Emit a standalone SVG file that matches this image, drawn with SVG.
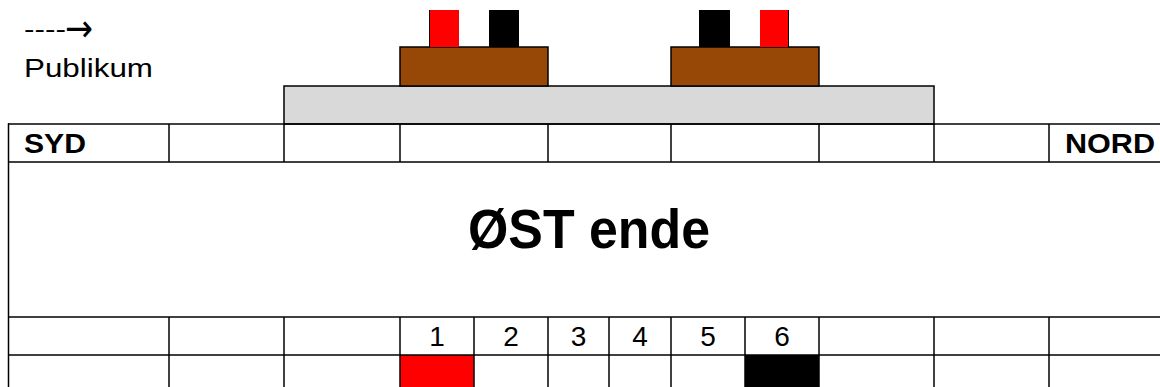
<svg xmlns="http://www.w3.org/2000/svg" width="1160" height="387" viewBox="0 0 1160 387">
  <style>
    .txt { font-family: "Liberation Sans", Arial, sans-serif; fill: #000; }
    .bold { font-weight: bold; }
    .arrow { font-family: "DejaVu Sans", sans-serif; }
    .grid { stroke: #000; stroke-width: 1.5; fill: none; }
    .box { stroke: #000; stroke-width: 1.5; }
    .red { fill: #ff0000; }
    .black { fill: #000; }
    .brown { fill: #974806; }
    .stage { fill: #d9d9d9; }
    .num { font-size: 28px; text-anchor: middle; }
  </style>

  <rect width="1160" height="387" fill="#fff"/>

  <!-- audience direction label -->
  <g id="publikum">
    <text class="txt" x="24" y="37" font-size="24"><tspan textLength="42" lengthAdjust="spacingAndGlyphs">----</tspan><tspan class="arrow" x="65" y="41" font-size="38" textLength="28" lengthAdjust="spacingAndGlyphs">→</tspan></text>
    <text class="txt" x="24" y="77" font-size="26" textLength="129" lengthAdjust="spacingAndGlyphs">Publikum</text>
  </g>

  <!-- stage platform -->
  <g id="stage">
    <rect class="stage box" x="284" y="86" width="650" height="38"/>
  </g>

  <!-- left podium with its two markers -->
  <g id="podium-left">
    <rect class="brown box" x="400" y="47" width="148" height="39"/>
    <rect class="red" x="429" y="10" width="30" height="37"/>
    <line x1="429.5" y1="10" x2="429.5" y2="47" stroke="#000" stroke-width="1"/>
    <rect class="black" x="489" y="10" width="30" height="37"/>
  </g>

  <!-- right podium with its two markers -->
  <g id="podium-right">
    <rect class="brown box" x="671" y="47" width="148" height="39"/>
    <rect class="black" x="699" y="10" width="31" height="37"/>
    <rect class="red" x="760" y="10" width="29" height="37"/>
    <line x1="788.5" y1="10" x2="788.5" y2="47" stroke="#000" stroke-width="1"/>
  </g>

  <!-- floor plan table -->
  <g id="table">
    <!-- filled cells in the bottom row -->
    <rect class="red" x="400" y="355" width="74" height="40"/>
    <rect class="black" x="745" y="355" width="74" height="40"/>

    <!-- horizontal rules -->
    <line class="grid" x1="8" y1="124" x2="1170" y2="124"/>
    <line class="grid" x1="8" y1="162" x2="1170" y2="162"/>
    <line class="grid" x1="8" y1="317" x2="1170" y2="317"/>
    <line class="grid" x1="8" y1="355" x2="1170" y2="355"/>
    <!-- outer left edge -->
    <line class="grid" x1="8.5" y1="123.25" x2="8.5" y2="395"/>

    <!-- header row dividers -->
    <g class="grid">
      <line x1="169" y1="124" x2="169" y2="162"/>
      <line x1="284" y1="124" x2="284" y2="162"/>
      <line x1="400" y1="124" x2="400" y2="162"/>
      <line x1="548" y1="124" x2="548" y2="162"/>
      <line x1="671" y1="124" x2="671" y2="162"/>
      <line x1="819" y1="124" x2="819" y2="162"/>
      <line x1="934" y1="124" x2="934" y2="162"/>
      <line x1="1049" y1="124" x2="1049" y2="162"/>
    </g>

    <!-- lower rows dividers -->
    <g class="grid">
      <line x1="169" y1="317" x2="169" y2="395"/>
      <line x1="284" y1="317" x2="284" y2="395"/>
      <line x1="400" y1="317" x2="400" y2="395"/>
      <line x1="474" y1="317" x2="474" y2="395"/>
      <line x1="548" y1="317" x2="548" y2="395"/>
      <line x1="609" y1="317" x2="609" y2="395"/>
      <line x1="671" y1="317" x2="671" y2="395"/>
      <line x1="745" y1="317" x2="745" y2="395"/>
      <line x1="819" y1="317" x2="819" y2="395"/>
      <line x1="934" y1="317" x2="934" y2="395"/>
      <line x1="1049" y1="317" x2="1049" y2="395"/>
    </g>

    <!-- labels -->
    <text class="txt bold" x="24" y="153" font-size="28" textLength="62" lengthAdjust="spacingAndGlyphs">SYD</text>
    <text class="txt bold" x="1065" y="153" font-size="28" textLength="90" lengthAdjust="spacingAndGlyphs">NORD</text>
    <text class="txt bold" x="468" y="248" font-size="56" textLength="242" lengthAdjust="spacingAndGlyphs">ØST ende</text>

    <text class="txt num" x="437" y="346">1</text>
    <text class="txt num" x="511" y="346">2</text>
    <text class="txt num" x="578.5" y="346">3</text>
    <text class="txt num" x="640" y="346">4</text>
    <text class="txt num" x="708" y="346">5</text>
    <text class="txt num" x="782" y="346">6</text>
  </g>
</svg>
